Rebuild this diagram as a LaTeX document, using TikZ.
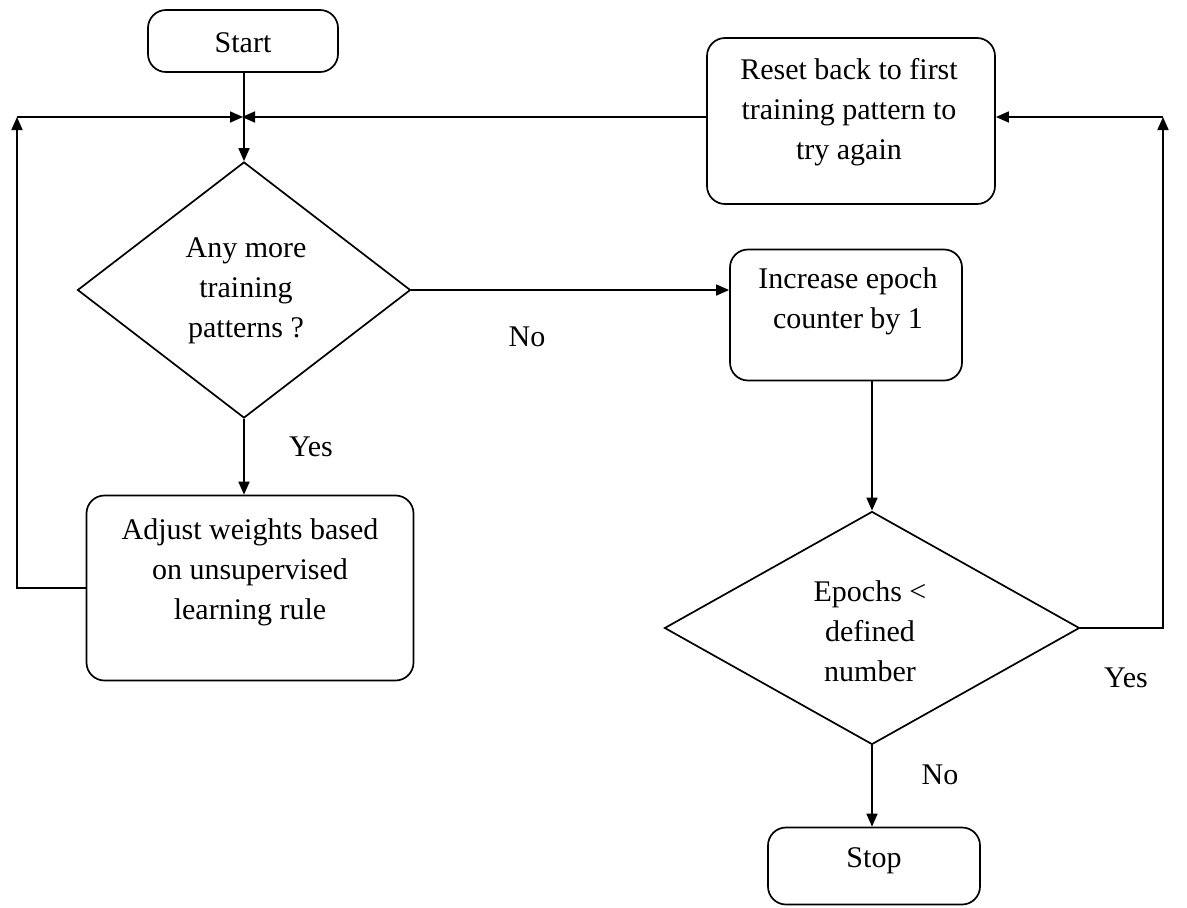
\documentclass[tikz,border=0pt]{standalone}
\usepackage{fontspec}
\setmainfont{Liberation Serif}
\usetikzlibrary{shapes.geometric,arrows.meta}
\begin{document}
\begin{tikzpicture}[x=1pt,y=-1pt,
  box/.style={draw, rectangle, rounded corners=18pt, line width=1.7pt, inner sep=0pt},
  dec/.style={draw, diamond, line width=1.7pt, inner sep=0pt},
  txt/.style={align=center, font=\fontsize{30}{40}\selectfont, inner sep=0pt},
  lbl/.style={font=\fontsize{30}{36}\selectfont, inner sep=0pt},
  flow/.style={line width=1.7pt, -{Triangle[length=13pt,width=11pt]}},
  conn/.style={line width=1.7pt}]
\useasboundingbox (0,0) rectangle (1187,908);
\fill[white] (0,0) rectangle (1187,908);

% shapes
\node[box, minimum width=190pt, minimum height=62pt] (start) at (243,41) {};
\node[txt] (startT) at (243,43) {Start};

\node[box, minimum width=288pt, minimum height=166pt] (reset) at (851,121) {};
\node[txt] (resetT) at (849,112) {Reset back to first\\training pattern to\\try again};

\node[dec, minimum width=333pt, minimum height=256pt] (more) at (244,290) {};
\node[txt] (moreT) at (246,291) {Any more\\training\\patterns ?};

\node[box, minimum width=232pt, minimum height=131pt] (incr) at (846,315) {};
\node[txt] (incrT) at (848,301) {Increase epoch\\counter by 1};

\node[box, minimum width=327pt, minimum height=185pt] (adjust) at (250,588) {};
\node[txt] (adjustT) at (250,572) {Adjust weights based\\on unsupervised\\learning rule};

\node[dec, minimum width=415pt, minimum height=233pt] (epochs) at (872,628) {};
\node[txt] (epochsT) at (870,631) {Epochs <\\defined\\number};

\node[box, minimum width=212pt, minimum height=77pt] (stop) at (874,866) {};
\node[txt] (stopT) at (874,861) {Stop};

% junction and corners
\coordinate (j) at (244,117);
\coordinate (cl) at (17,117);
\coordinate (cr) at (1163,117);

% connectors
\draw[flow] (start.south -| more.north) -- (more.north);
\draw[flow] (adjust.west) -| (cl);
\draw[flow, shorten >=1pt] (cl) -- (j);
\draw[flow, shorten >=-2pt] (reset.west |- j) -- (j);
\draw[flow] (more.east) -- (incr.west |- more.east);
\draw[flow] (more.south) -- (more.south |- adjust.north);
\draw[flow] (epochs.north |- incr.south) -- (epochs.north);
\draw[flow] (epochs.east) -| (cr);
\draw[flow] (cr) -- (reset.east |- cr);
\draw[flow] (epochs.south) -- (epochs.south |- stop.north);

% branch labels
\node[lbl] (yes1) at (311,447) {Yes};
\node[lbl] (no1) at (527,337) {No};
\node[lbl] (yes2) at (1126,678) {Yes};
\node[lbl] (no2) at (940,775) {No};
\end{tikzpicture}
\end{document}
